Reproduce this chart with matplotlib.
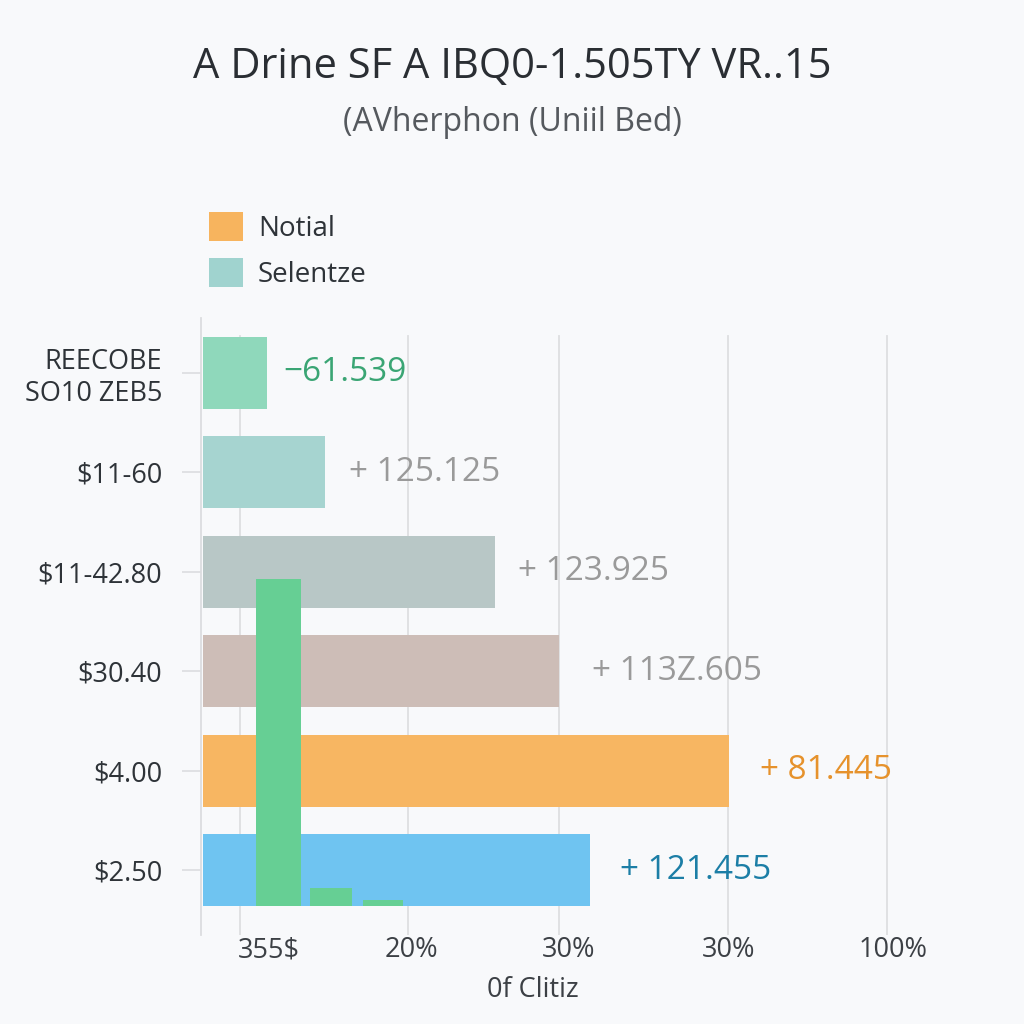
import matplotlib
matplotlib.use("Agg")
import matplotlib.pyplot as plt
from matplotlib.patches import Patch

## ----------------------------------------------------------------------------
## Data
## ----------------------------------------------------------------------------
categories = ["REECOBE\nSO10 ZEB5", "$11-60", "$11-42.80", "$30.40", "$4.00", "$2.50"]
bar_values = [8.9, 16.9, 40.6, 49.4, 73.1, 53.8]
bar_colors = ["#8fd8bb", "#a6d4d0", "#b8c7c6", "#cdbdb7", "#f7b662", "#6fc4f1"]
value_labels = ["\u221261.539", "+ 125.125", "+ 123.925", "+ 113Z.605", "+ 81.445", "+ 121.455"]
value_colors = ["#3aa574", "#9a9a9a", "#9a9a9a", "#9a9a9a", "#e6922c", "#1c7ea6"]

# green columns standing on the bottom row
col_x = [10.8, 18.1, 25.3]
col_widths = [6.2, 5.8, 5.6]
col_heights = [3.29, 0.18, 0.06]

grid_pos = [5.4, 28.7, 49.7, 73.2, 95.3]
tick_pos = [9.4, 29.3, 51.0, 73.3, 96.1]
tick_labels = ["355$", "20%", "30%", "30%", "100%"]

legend_labels = ["Notial", "Selentze"]
legend_colors = ["#f7b45e", "#a0d3cf"]

## ----------------------------------------------------------------------------
## Plot
## ----------------------------------------------------------------------------
plt.rcParams['font.family'] = ['Open Sans', 'DejaVu Sans']

fig = plt.figure(figsize=(10.24, 10.24), dpi=100, facecolor="#f8f9fb")
ax = fig.add_axes([0.1963, 0.0869, 0.703, 0.6026])
ax.set_facecolor("none")

rows = list(range(len(categories)))
for x in grid_pos:
    ax.axvline(x, ymin=0, ymax=0.97, color="#dedfe1", lw=1.3, zorder=0)

ax.barh(rows, bar_values, height=0.72, left=0.3, color=bar_colors, zorder=2)

base = rows[-1] + 0.36
ax.bar(col_x, [-h for h in col_heights], width=col_widths, bottom=base,
       color="#66cf94", zorder=3)

offsets = [2.5, 3.7, 3.4, 4.9, 4.6, 4.4]
for r, v, lab, c, off in zip(rows, bar_values, value_labels, value_colors, offsets):
    ax.text(v + off, r, lab, color=c, fontsize=24, va="center", ha="left")

ax.set_xlim(0, 100)
ax.set_ylim(5.65, -0.55)
ax.set_yticks(rows)
ax.set_yticklabels(categories, fontsize=19.5, color="#2e3338", linespacing=1.2)
ax.tick_params(axis="y", length=14, width=1.2, color="#dcdde0", pad=14)
ax.set_xticks(tick_pos)
ax.set_xticklabels(tick_labels, fontsize=19.5, color="#3c4045")
ax.tick_params(axis="x", length=0, pad=1)

for s in ["top", "right", "bottom"]:
    ax.spines[s].set_visible(False)
ax.spines["left"].set_color("#dcdde0")
ax.spines["left"].set_linewidth(1.3)

fig.text(0.52, 0.033, "0f Clitiz", ha="center", va="center",
         fontsize=19.5, color="#3c4045")
fig.text(0.5, 0.935, "A Drine SF A IBQ0-1.505TY VR..15", ha="center", va="center",
         fontsize=30, color="#2a2e33")
fig.text(0.5, 0.88, "(AVherphon (Uniil Bed)", ha="center", va="center",
         fontsize=23, color="#55595e")

handles = [Patch(facecolor=c, edgecolor="none") for c in legend_colors]
fig.legend(handles, legend_labels, loc="upper left", bbox_to_anchor=(0.18, 0.817),
           frameon=False, fontsize=20, handlelength=1.2, handleheight=1.2,
           labelspacing=0.55, handletextpad=0.55, labelcolor="#2e3338")

fig.savefig("out.png", dpi=100, facecolor=fig.get_facecolor())
